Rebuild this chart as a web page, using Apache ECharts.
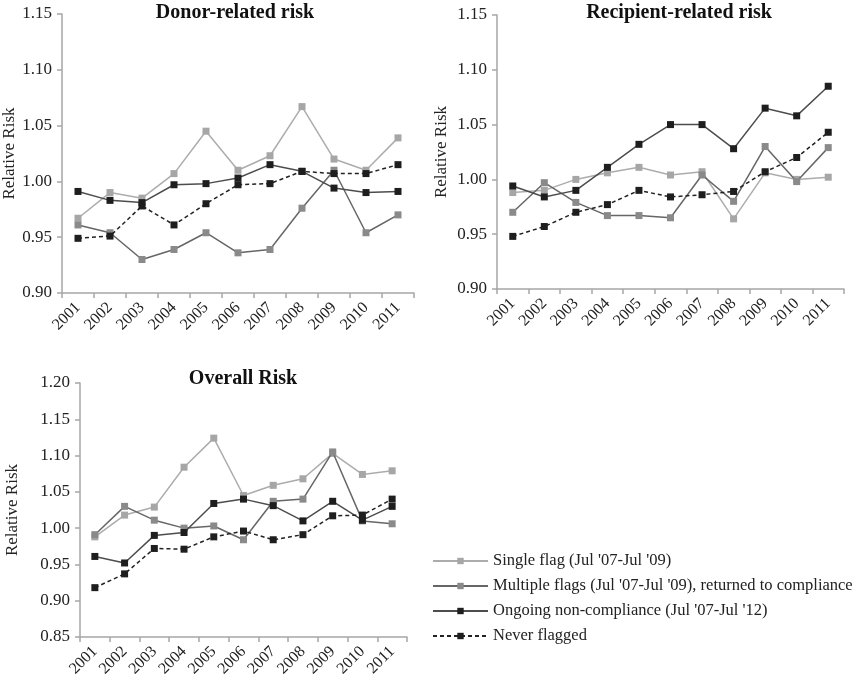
<!DOCTYPE html>
<html style="height: 100%">
<head>
<meta charset="utf-8"/>
<script type="text/javascript" src="https://cdn.jsdelivr.net/npm/echarts@6/dist/echarts.min.js"></script>
</head>
<body style="height: 100%; margin: 0; background: #fff">
<div id="container" style="width: 860px; height: 683px"></div>
<script type="text/javascript">
var years = ['2001','2002','2003','2004','2005','2006','2007','2008','2009','2010','2011'];
var seriesNames = [
	'Single flag (Jul \'07-Jul \'09)',
	'Multiple flags (Jul \'07-Jul \'09), returned to compliance',
	'Ongoing non-compliance (Jul \'07-Jul \'12)',
	'Never flagged'
];
var panelTitles = ['Donor-related risk', 'Recipient-related risk', 'Overall Risk'];

// Donor-related risk
var donorSingle   = [0.967, 0.990, 0.985, 1.007, 1.045, 1.010, 1.023, 1.067, 1.020, 1.010, 1.039];
var donorMultiple = [0.961, 0.954, 0.930, 0.939, 0.954, 0.936, 0.939, 0.976, 1.010, 0.954, 0.970];
var donorOngoing  = [0.991, 0.983, 0.981, 0.997, 0.998, 1.003, 1.015, 1.009, 0.994, 0.990, 0.991];
var donorNever    = [0.949, 0.951, 0.978, 0.961, 0.980, 0.997, 0.998, 1.009, 1.007, 1.007, 1.015];

// Recipient-related risk
var recipSingle   = [0.988, 0.990, 1.000, 1.006, 1.011, 1.004, 1.007, 0.964, 1.006, 1.000, 1.002];
var recipMultiple = [0.970, 0.997, 0.979, 0.967, 0.967, 0.965, 1.004, 0.980, 1.030, 0.998, 1.029];
var recipOngoing  = [0.994, 0.984, 0.990, 1.011, 1.032, 1.050, 1.050, 1.028, 1.065, 1.058, 1.085];
var recipNever    = [0.948, 0.957, 0.970, 0.977, 0.990, 0.984, 0.986, 0.989, 1.007, 1.020, 1.043];

// Overall risk
var overallSingle   = [0.988, 1.018, 1.029, 1.084, 1.124, 1.045, 1.059, 1.068, 1.103, 1.074, 1.079];
var overallMultiple = [0.991, 1.030, 1.011, 1.000, 1.003, 0.984, 1.037, 1.040, 1.105, 1.010, 1.006];
var overallOngoing  = [0.961, 0.952, 0.990, 0.994, 1.034, 1.040, 1.031, 1.010, 1.037, 1.011, 1.030];
var overallNever    = [0.918, 0.937, 0.972, 0.971, 0.988, 0.996, 0.984, 0.991, 1.017, 1.018, 1.040];

var yMin = [0.90, 0.90, 0.85];
var yMax = [1.15, 1.15, 1.20];

var panelData = [
	[donorSingle, donorMultiple, donorOngoing, donorNever],
	[recipSingle, recipMultiple, recipOngoing, recipNever],
	[overallSingle, overallMultiple, overallOngoing, overallNever]
];

var fontFam = '"Liberation Serif", "Times New Roman", serif';
var axisGray = '#a6a6a6';

// line colour, marker colour, dash
var styles = [
	{line: '#acacac', mark: '#a6a6a6', type: 'solid'},
	{line: '#666666', mark: '#8a8a8a', type: 'solid'},
	{line: '#4d4d4d', mark: '#1e1e1e', type: 'solid'},
	{line: '#222222', mark: '#1e1e1e', type: [4, 3]}
];

var grids = [
	{left: 62, top: 14, width: 352, height: 279},
	{left: 497, top: 15, width: 347, height: 274},
	{left: 80, top: 383, width: 327, height: 254}
];
var nameGaps = [42, 47, 59];
var titleX = [235, 679, 243];
var titleY = [3, 3, 369];

var xAxis = [], yAxis = [], series = [], titles = [];
for (var g = 0; g < 3; g++) {
	xAxis.push({
		gridIndex: g,
		type: 'category',
		data: years,
		boundaryGap: true,
		axisLine: {lineStyle: {color: axisGray, width: 1.5}},
		axisTick: {show: true, length: 5, lineStyle: {color: axisGray, width: 1.5}},
		axisLabel: {rotate: 45, margin: 12, color: '#222', fontSize: 16, fontFamily: fontFam}
	});
	yAxis.push({
		gridIndex: g,
		type: 'value',
		min: yMin[g],
		max: yMax[g],
		interval: 0.05,
		name: 'Relative Risk',
		nameLocation: 'middle',
		nameGap: nameGaps[g],
		nameTextStyle: {color: '#222', fontSize: 17, fontFamily: fontFam},
		splitLine: {show: false},
		axisLine: {show: true, lineStyle: {color: axisGray, width: 1.5}},
		axisTick: {show: true, length: 5, lineStyle: {color: axisGray, width: 1.5}},
		axisLabel: {
			margin: 10, color: '#222', fontSize: 17, fontFamily: fontFam,
			formatter: function (v) { return v.toFixed(2); }
		}
	});
	titles.push({
		text: panelTitles[g],
		left: titleX[g],
		top: titleY[g],
		textAlign: 'center',
		padding: 0,
		textStyle: {color: '#111', fontSize: 20, fontWeight: 'bold', fontFamily: fontFam}
	});
	for (var s = 0; s < 4; s++) {
		series.push({
			name: seriesNames[s],
			type: 'line',
			xAxisIndex: g,
			yAxisIndex: g,
			data: panelData[g][s],
			symbol: 'rect',
			symbolSize: 7,
			showAllSymbol: true,
			z: 2 + s,
			lineStyle: {color: styles[s].line, width: 1.5, type: styles[s].type},
			itemStyle: {color: styles[s].mark}
		});
	}
}

var myChart = echarts.init(document.getElementById('container'));
var option = {
	animation: false,
	backgroundColor: '#fff',
	title: titles,
	grid: grids,
	xAxis: xAxis,
	yAxis: yAxis,
	legend: {
		orient: 'vertical',
		left: 432,
		top: 552,
		padding: 0,
		itemWidth: 55,
		itemHeight: 8,
		itemGap: 7,
		data: seriesNames,
		textStyle: {color: '#222', fontSize: 16.5, lineHeight: 18, fontFamily: fontFam}
	},
	series: series
};
myChart.setOption(option);
</script>
</body>
</html>
